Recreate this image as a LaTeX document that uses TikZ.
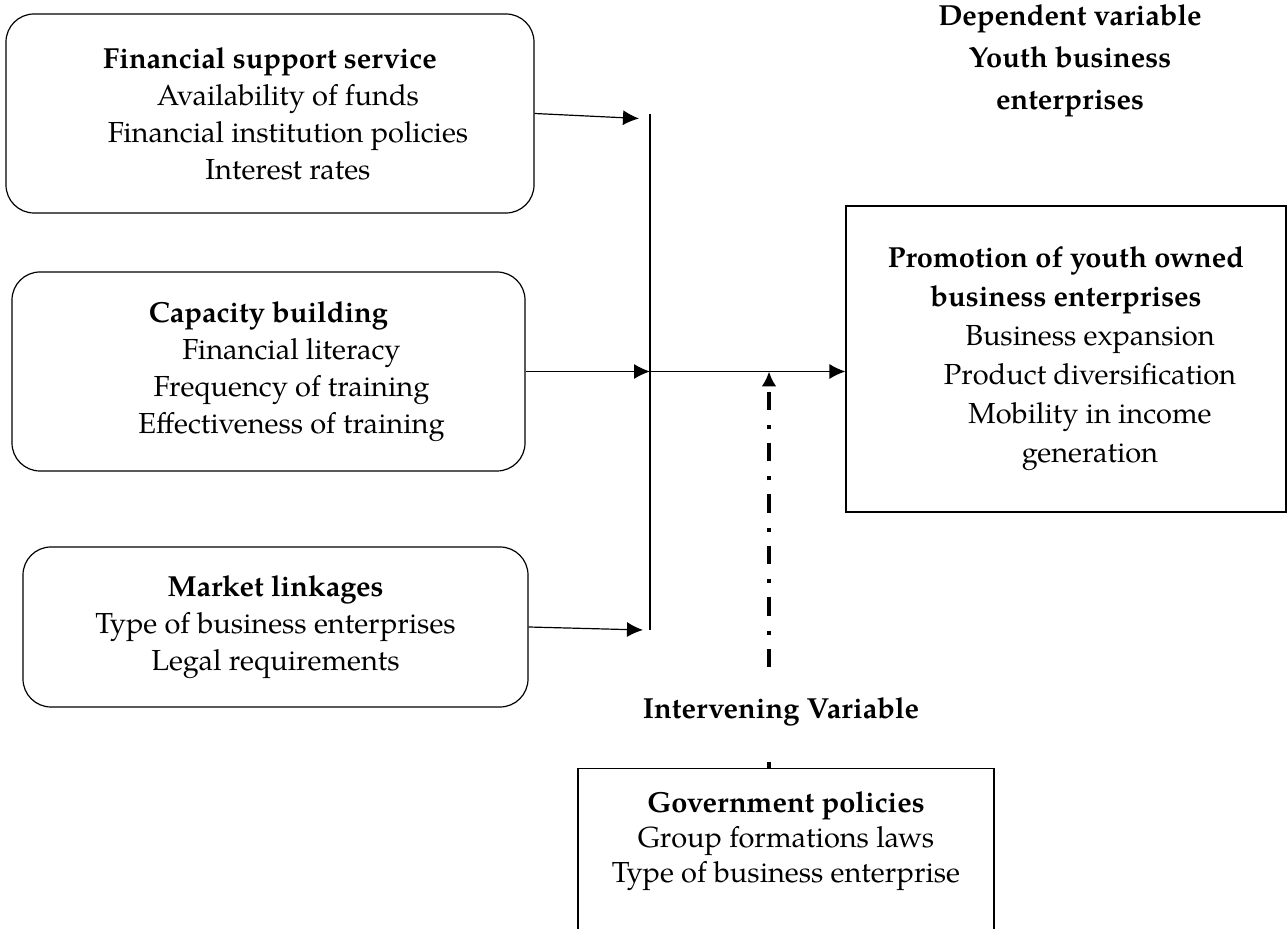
\documentclass[tikz,border=0pt]{standalone}
\usepackage{fontspec}
\setmainfont{texgyrepagella}[Extension=.otf,UprightFont=*-regular,BoldFont=*-bold,
	ItalicFont=*-italic,BoldItalicFont=*-bolditalic]
\usetikzlibrary{arrows.meta,positioning}

\begin{document}
\begin{tikzpicture}[x=0.5pt,y=-0.5pt,
	rbox/.style={draw,line width=0.6pt,rounded corners=14pt,align=center,inner sep=0pt,
		font=\fontsize{14.5}{18.5}\selectfont},
	sbox/.style={draw,line width=0.6pt,align=center,inner sep=0pt,
		font=\fontsize{14.5}{18.5}\selectfont},
	head/.style={align=center,font=\fontsize{14.5}{21}\selectfont\bfseries},
	arr/.style={-{Latex[length=8pt,width=7.5pt]},line width=0.6pt},
	dashdot/.style={line width=2pt,dash pattern=on 9.2pt off 7pt on 2pt off 7.5pt}]
	\useasboundingbox (0,0) rectangle (1287,929);
	\clip (0,0) rectangle (1287,929);
	\node[rbox,minimum width=264pt,minimum height=99.5pt] (fin) at (270,113.5)
		{\textbf{Financial support service}\\ \hspace*{18pt}Availability of funds\\
		\hspace*{18pt}Financial institution policies\\ \hspace*{18pt}Interest rates};
	\node[rbox,minimum width=256.5pt,minimum height=99.5pt] (cap) at (268.5,371.5)
		{\textbf{Capacity building}\\ \hspace*{23pt}Financial literacy\\
		\hspace*{23pt}Frequency of training\\ \hspace*{23pt}Effectiveness of training};
	\node[rbox,minimum width=252.5pt,minimum height=80pt] (mkt) at (275.5,627)
		{\textbf{Market linkages}\\ Type of business enterprises\\ Legal requirements};
	\node[sbox,minimum width=220pt,minimum height=153pt,
		font=\fontsize{14.5}{19.5}\selectfont] (prom) at (1066,359)
		{\textbf{Promotion of youth owned}\\ \textbf{business enterprises}\\
		\hspace*{24pt}Business expansion\\ \hspace*{24pt}Product diversification\\
		\hspace*{24pt}Mobility in income\\ \hspace*{24pt}generation};
	\node[sbox,minimum width=208pt,minimum height=86pt,anchor=north,
		font=\fontsize{14.5}{17.5}\selectfont] (gov) at (786,768)
		{\textbf{Government policies}\\ Group formations laws\\ Type of business enterprise\\ ~};
	\node[head] (dep) at (1070,61) {Dependent variable\\ Youth business\\ enterprises};
	\node[head] (iv) at (781,712) {Intervening Variable};
	\coordinate (jtop) at (650,114);
	\coordinate (jbot) at (650,630);
	\coordinate (fintip) at (639,118.5);
	\coordinate (mkttip) at (643,630);
	\coordinate (ivfoot) at (769,667);
	\draw[line width=0.6pt] (jtop) -- (jbot);
	\draw[arr] (fin.east) -- (fintip);
	\draw[arr] (cap.east) -- (cap.east -| jtop);
	\draw[arr] (mkt.east) -- (mkttip);
	\draw[arr] (cap.east -| jtop) -- (cap.east -| prom.west);
	\draw[dashdot,-{Latex[length=7.5pt,width=7.5pt]}] (ivfoot) -- (ivfoot |- cap.east);
	\draw[line width=2pt] (gov.north -| ivfoot) -- ++(0,-6);
\end{tikzpicture}
\end{document}
